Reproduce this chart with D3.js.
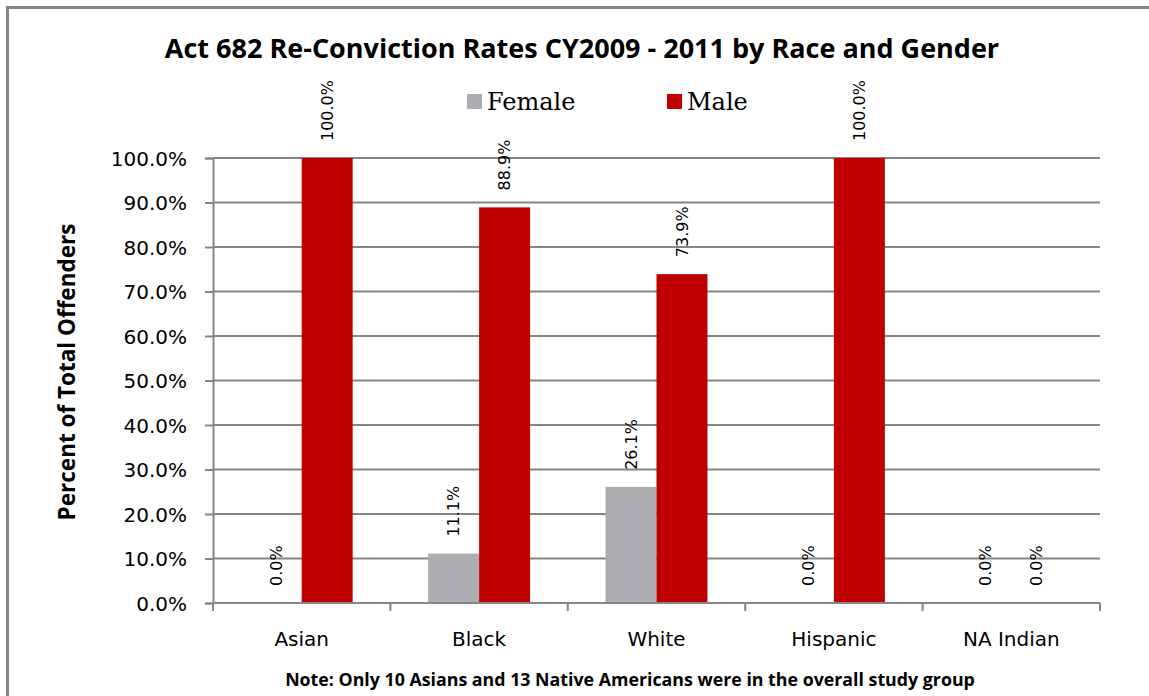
<!DOCTYPE html>
<html>
<head>
<meta charset="utf-8">
<script src="https://cdn.jsdelivr.net/npm/d3@7"></script>
<style>
  html, body { margin: 0; padding: 0; background: #fff; }
  svg { display: block; }
</style>
</head>
<body>
<svg id="chart" width="1149" height="696"></svg>
<script>
const categories = ["Asian", "Black", "White", "Hispanic", "NA Indian"];
const seriesNames = ["Female", "Male"];
const femaleValues = [0.0, 11.1, 26.1, 0.0, 0.0];
const maleValues = [100.0, 88.9, 73.9, 100.0, 0.0];
const yTicks = [0, 10, 20, 30, 40, 50, 60, 70, 80, 90, 100];
const colors = ["#ABADB0", "#C00000"];
const titleText = "Act 682 Re-Conviction Rates CY2009 - 2011 by Race and Gender";
const yTitleText = "Percent of Total Offenders";
const noteText = "Note: Only 10 Asians and 13 Native Americans were in the overall study group";

const svg = d3.select("#chart");
const margin = {left: 213, right: 1100, top: 158, bottom: 603};
const sansFont = "'DejaVu Sans', sans-serif";
const boldFont = "'Open Sans', sans-serif";

// border
svg.append("rect").attr("x", 7.5).attr("y", 7.5).attr("width", 1160).attr("height", 720)
  .attr("fill", "none").attr("stroke", "#868686").attr("stroke-width", 3);

const x0 = d3.scaleBand().domain(categories).range([margin.left, margin.right]).paddingInner(0).paddingOuter(0);
const x1 = d3.scaleBand().domain(seriesNames).range([0, x0.bandwidth()]).paddingInner(0).paddingOuter(0.74);
const y = d3.scaleLinear().domain([0, 100]).range([margin.bottom, margin.top]);

// gridlines
svg.append("g").selectAll("line").data(yTicks.filter(d => d > 0)).join("line")
  .attr("x1", margin.left).attr("x2", margin.right)
  .attr("y1", d => y(d)).attr("y2", d => y(d))
  .attr("stroke", "#868686").attr("stroke-width", 2);

// y axis
const yAxis = d3.axisLeft(y).tickValues(yTicks).tickSize(8).tickPadding(18)
  .tickFormat(d => d3.format(".1f")(d) + "%");
const gy = svg.append("g").attr("transform", `translate(${margin.left},0)`).call(yAxis);
gy.select(".domain").attr("stroke", "#868686").attr("stroke-width", 2);
gy.selectAll(".tick line").attr("stroke", "#868686").attr("stroke-width", 2);
gy.selectAll(".tick text").attr("font-family", sansFont).attr("font-size", 20).attr("fill", "#000")
  .attr("dy", "0.36em").attr("x", -26);

// x axis
const xAxis = d3.axisBottom(x0).tickSize(0).tickPadding(0);
const gx = svg.append("g").attr("transform", `translate(0,${margin.bottom})`).call(xAxis);
gx.select(".domain").remove();
gx.selectAll(".tick text").attr("font-family", sansFont).attr("font-size", 20).attr("fill", "#000")
  .attr("y", 43).attr("dy", 0);
// category boundary ticks
const bounds = categories.map(c => x0(c)).concat([margin.right]);
svg.append("g").selectAll("line").data(bounds).join("line")
  .attr("x1", d => d).attr("x2", d => d).attr("y1", margin.bottom).attr("y2", margin.bottom + 8)
  .attr("stroke", "#868686").attr("stroke-width", 2);

// bars
const rows = categories.map((c, i) => ({cat: c, vals: [femaleValues[i], maleValues[i]]}));
const groups = svg.append("g").selectAll("g").data(rows).join("g")
  .attr("transform", d => `translate(${x0(d.cat)},0)`);
groups.selectAll("rect").data(d => d.vals.map((v, j) => ({s: seriesNames[j], v, j}))).join("rect")
  .attr("x", d => x1(d.s)).attr("width", x1.bandwidth())
  .attr("y", d => y(d.v)).attr("height", d => y(0) - y(d.v))
  .attr("fill", d => colors[d.j]);
// baseline over bars
svg.append("line").attr("x1", margin.left).attr("x2", margin.right)
  .attr("y1", margin.bottom).attr("y2", margin.bottom)
  .attr("stroke", "#868686").attr("stroke-width", 2);

// labels
groups.selectAll("text").data(d => d.vals.map((v, j) => ({s: seriesNames[j], v, j}))).join("text")
  .attr("transform", d => `translate(${x1(d.s) + x1.bandwidth() / 2},${y(d.v) - 17}) rotate(-90)`)
  .attr("dy", "0.35em")
  .attr("text-anchor", "start")
  .attr("font-family", sansFont).attr("font-size", 16).attr("fill", "#000")
  .text(d => d3.format(".1f")(d.v) + "%");

// title
svg.append("text").attr("x", 582).attr("y", 58).attr("text-anchor", "middle")
  .attr("font-family", boldFont).attr("font-weight", "bold").attr("font-size", 27).attr("fill", "#000")
  .text(titleText);

// legend
const legendX = [467, 667];
const lg = svg.append("g").selectAll("g").data(seriesNames).join("g")
  .attr("transform", (d, i) => `translate(${legendX[i]},94)`);
lg.append("rect").attr("width", 15).attr("height", 15).attr("fill", (d, i) => colors[i]);
lg.append("text").attr("x", 20).attr("y", 16)
  .attr("font-family", "'DejaVu Serif', serif").attr("font-size", 24).attr("fill", "#000")
  .text(d => d);

// y title
svg.append("text").attr("transform", "translate(75,372) rotate(-90)").attr("text-anchor", "middle")
  .attr("font-family", boldFont).attr("font-weight", "bold").attr("font-size", 22.5).attr("fill", "#000")
  .text(yTitleText);

// note
svg.append("text").attr("x", 630).attr("y", 686).attr("text-anchor", "middle")
  .attr("font-family", boldFont).attr("font-weight", "bold").attr("font-size", 17.8).attr("fill", "#000")
  .text(noteText);
</script>
</body>
</html>
